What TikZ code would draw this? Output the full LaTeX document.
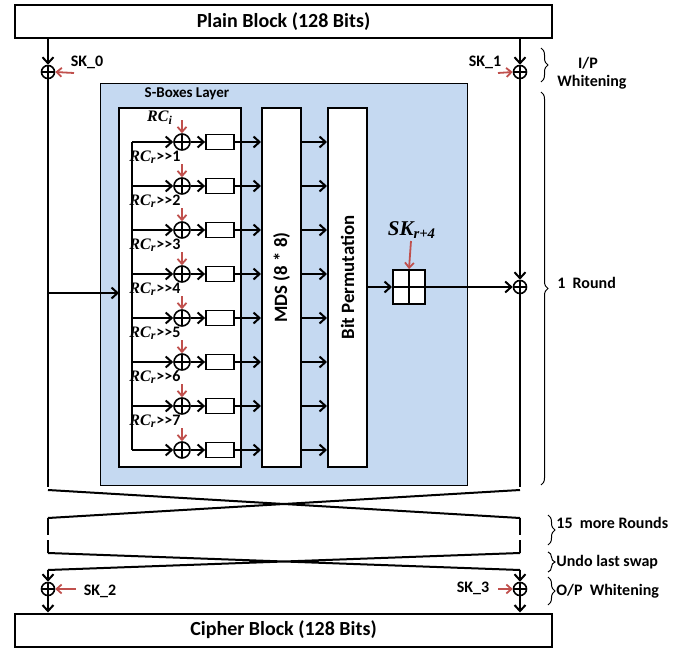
\documentclass[tikz,border=0pt]{standalone}
\usepackage{fontspec}
\setmainfont{Carlito}
\newfontfamily\rcfont{Liberation Serif}
\usetikzlibrary{arrows.meta,decorations.pathreplacing,positioning}
\definecolor{layerblue}{RGB}{197,217,241}
\definecolor{keyred}{RGB}{192,80,77}
\newcommand{\rcname}[1]{{\rcfont\bfseries\itshape RC\textsubscript{#1}}}
\tikzset{
  wire/.style={line width=1pt},
  flow/.style={wire, -{Straight Barb[length=3pt,width=5.5pt]}},
  keyarrow/.style={keyred, line width=0.9pt, -{Straight Barb[length=2.5pt,width=4.5pt]}},
  xorop/.style={circle, draw, line width=0.8pt, inner sep=0pt, minimum size=#1,
    path picture={\draw[line width=0.8pt] (path picture bounding box.north) -- (path picture bounding box.south)
      (path picture bounding box.west) -- (path picture bounding box.east);}},
  xorop/.default=8pt,
  block/.style={draw, line width=1pt, fill=white, minimum width=268.5pt, minimum height=16.5pt,
    inner sep=0pt, font=\fontsize{10}{12}\selectfont\bfseries},
  stage/.style={draw, line width=1pt, fill=white, minimum width=19.5pt, minimum height=179.5pt, inner sep=0pt},
  sbox/.style={draw, line width=0.9pt, fill=white, minimum width=14pt, minimum height=7.5pt, inner sep=0pt},
  lbl/.style={font=\fontsize{8}{9.5}\selectfont\bfseries, inner sep=0pt},
  rclbl/.style={font=\fontsize{8}{9}\selectfont\bfseries, inner sep=0pt},
  side/.style={line width=0.5pt, decorate, decoration={brace, amplitude=3.5pt}},
}
\begin{document}
\begin{tikzpicture}[x=0.5pt,y=-0.5pt]
  \useasboundingbox (0,0) rectangle (687,648);

  % plain and cipher blocks
  \node[block] (plain) at (283.5,21.5) {Plain Block (128 Bits)};
  \node[block] (cipher) at (283.5,630) {Cipher Block (128 Bits)};

  % input whitening
  \node[xorop=6.5pt] (k0) at (48,72) {};
  \node[xorop=6.5pt] (k1) at (520,72) {};
  \draw[flow] (k0 |- plain.south) -- (k0.north);
  \draw[flow] (k1 |- plain.south) -- (k1.north);
  \node[lbl] (sk0) at (87,62) {SK\_0};
  \node[lbl] (sk1) at (485,62) {SK\_1};
  \coordinate (sk0in) at (74,73);
  \coordinate (sk1in) at (498,73);
  \draw[keyarrow] (sk0in) -- (k0.east);
  \draw[keyarrow] (sk1in) -- (k1.west);

  % S-boxes layer
  \draw[line width=0.5pt, fill=layerblue] (100,83) rectangle (467,485);
  \node[font=\fontsize{7.5}{9}\selectfont\bfseries] (sblayer) at (187,94) {S-Boxes Layer};
  \draw[wire, fill=white] (119,108) rectangle (241,467);

  \node[stage] (mds) at (281.5,287.5) {};
  \node[rotate=90, font=\fontsize{9.4}{11}\selectfont\bfseries] at ([yshift=5pt]mds.center) {MDS (8 * 8)};
  \node[stage] (bp) at (347.5,287.5) {};
  \node[rotate=90, font=\fontsize{9.4}{11}\selectfont\bfseries] at ([yshift=5pt]bp.center) {Bit Permutation};

  % rows
  \foreach \k in {1,...,8} {
    \pgfmathsetmacro{\y}{98+44*\k}
    \node[xorop] (x\k) at (182,\y) {};
    \node[sbox] (s\k) at (220,\y) {};
    \coordinate (b\k) at (132,\y);
    \coordinate (rc\k) at (182,\y-22);
    \draw[flow] (b\k) -- (x\k.west);
    \draw[flow] (x\k.east) -- (s\k.west);
    \draw[flow] (s\k.east) -- (s\k.east -| mds.west);
    \draw[flow] (mds.east |- s\k) -- (bp.west |- s\k);
    \draw[keyarrow] (rc\k) -- (x\k.north);
  }
  \draw[wire] (b1) -- (b8);
  \node[rclbl] at (160,118) {\rcname{i}};
  \foreach \k [evaluate=\k as \y using 98+44*\k-29, evaluate=\k as \s using int(\k-1)] in {2,...,8}
    \node[rclbl] at (155,\y) {\rcname{r}>{}>\s};

  % round input
  \coordinate (inL) at (48,293);
  \coordinate (inR) at (119,293);
  \draw[flow] (inL) -- (inR);

  % round key
  \node[draw, line width=1pt, fill=white, minimum width=16pt, minimum height=17pt, inner sep=0pt] (skr) at (409,287) {};
  \draw[line width=1pt] (skr.north) -- (skr.south) (skr.west) -- (skr.east);
  \node[font=\fontsize{10.5}{12}\selectfont\rcfont\bfseries\itshape] (skrl) at (412,230) {SK\textsubscript{r+4}};
  \coordinate (skrin) at (411,241);
  \draw[keyarrow] (skrin) -- (skr.north);
  \draw[flow] (bp.east |- skr) -- (skr.west);

  \node[xorop=6.5pt] (kr) at (520,287) {};
  \draw[flow] (k1.south) -- (kr.north);
  \draw[flow] (skr.east) -- (kr.west);

  % main lines
  \coordinate (el) at (48,487);
  \coordinate (er) at (520,487);
  \draw[wire] (k0.south) -- (el);
  \draw[wire] (kr.south) -- (er);

  % swaps
  \draw[wire] (48,490) -- (520,518) (520,490) -- (48,518);
  \draw[wire] (48,518) -- (48,535) (520,518) -- (520,535);
  \draw[wire] (48,540) -- (48,553) (520,540) -- (520,553);
  \draw[wire] (48,553) -- (520,570) (520,553) -- (48,570);

  % output whitening
  \node[xorop=6.5pt] (k2) at (48,589) {};
  \node[xorop=6.5pt] (k3) at (520,589) {};
  \coordinate (ol) at (48,570);
  \coordinate (or) at (520,570);
  \draw[flow] (ol) -- (k2.north);
  \draw[flow] (or) -- (k3.north);
  \draw[flow] (k2.south) -- (k2 |- cipher.north);
  \draw[flow] (k3.south) -- (k3 |- cipher.north);
  \node[lbl] (sk2) at (100,591) {SK\_2};
  \node[lbl] (sk3) at (473,588) {SK\_3};
  \coordinate (sk2in) at (76,589);
  \coordinate (sk3in) at (498,589);
  \draw[keyarrow] (sk2in) -- (k2.east);
  \draw[keyarrow] (sk3in) -- (k3.west);

  % braces
  \draw[side] (541,48) -- (541,82);
  \node[lbl] at (588,63) {I/P};
  \node[lbl] at (592,82) {Whitening};
  \draw[side] (541,92) -- (541,485);
  \node[lbl, anchor=west] at (557,283) {1\ \ Round};
  \draw[side] (548,515) -- (548,545);
  \node[lbl, anchor=west] at (556,523) {15\ \ more Rounds};
  \draw[side] (548,552) -- (548,572);
  \node[lbl, anchor=west] at (556,562) {Undo last swap};
  \draw[side] (548,577) -- (548,605);
  \node[lbl, anchor=west] at (556,591) {O/P\ \ Whitening};
\end{tikzpicture}
\end{document}
